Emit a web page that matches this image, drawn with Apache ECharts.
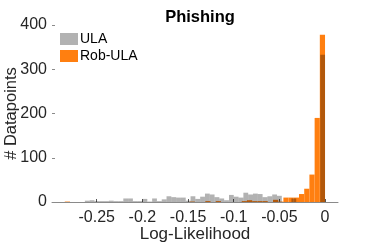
<!DOCTYPE html>
<html><head><meta charset="utf-8">
<script src="https://cdn.jsdelivr.net/npm/echarts@6/dist/echarts.min.js"></script>
<style>html,body{margin:0;padding:0;background:#fff}#c{width:374px;height:245px}</style>
</head><body><div id="c"></div>
<script>
// Histogram bin ranges (each series has 50 equal bins over its range)
var robRange = [-0.285, 0];
var ulaRange = [-0.263, 0];
// Bin counts (left to right)
var robCounts = [1,0,0,0,0,0,0,0,0,0, 0,0,0,0,0,0,0,0,0,0, 0,0,0,0,1,0,0,2,0,2, 0,0,0,0,2,4,2,2,2,0, 5,1,10,10,10,18,30,62,190,378];
var ulaCounts = [3,4,2,2,2,3,2,2,8,8, 2,2,7,1,8,2,6,13,11,10, 10,3,13,7,12,19,17,11,8,4, 16,12,10,21,17,19,18,11,13,17, 14,0,0,8,0,0,0,0,0,333];
var xTicks = [-0.25, -0.2, -0.15, -0.1, -0.05, 0];
var yTicks = [0, 100, 200, 300, 400];
var seriesNames = ['ULA', 'Rob-ULA'];

function toBins(range, counts) {
  var w = (range[1] - range[0]) / counts.length;
  var out = [];
  for (var i = 0; i < counts.length; i++) {
    if (counts[i] > 0) out.push([range[0] + i * w, range[0] + (i + 1) * w, counts[i]]);
  }
  return out;
}
function renderBar(params, api) {
  var a = api.coord([api.value(0), 0]);
  var b = api.coord([api.value(1), api.value(2)]);
  return {type: 'rect', shape: {x: a[0], y: b[1], width: b[0] - a[0], height: a[1] - b[1]},
    style: {fill: api.visual('color')}};
}
var font = 'Liberation Sans, Arial, Helvetica, sans-serif';
var chart = echarts.init(document.getElementById('c'), null, {renderer: 'canvas'});
chart.setOption({
  animation: false,
  title: {text: 'Phishing', left: 195, textAlign: 'center', top: 4,
    textStyle: {fontFamily: font, fontSize: 16.5, fontWeight: 'bold', color: '#000'}},
  legend: {data: seriesNames, orient: 'vertical', left: 60, top: 32, padding: 0,
    itemWidth: 18, itemHeight: 12, itemGap: 3, icon: 'rect',
    textStyle: {fontFamily: font, fontSize: 14, color: '#000', padding: [0,0,0,-3]}},
  grid: {left: 52, right: 36, top: 25, bottom: 43, containLabel: false, outerBoundsMode: 'none'},
  xAxis: {type: 'value', min: -0.299, max: 0.0142,
    name: 'Log-Likelihood', nameLocation: 'middle', nameGap: 24, nameMoveOverlap: false,
    nameTextStyle: {fontFamily: font, fontSize: 17, color: '#262626'},
    axisLine: {show: true, onZero: false, lineStyle: {color: '#8a8a8a', width: 1}},
    axisTick: {show: true, inside: true, length: 3, customValues: xTicks, lineStyle: {color: '#555'}},
    axisLabel: {customValues: xTicks, margin: 8, fontFamily: font, fontSize: 16, color: '#262626',
      formatter: function (v) { return String(v); }},
    splitLine: {show: false}},
  yAxis: {type: 'value', min: yTicks[0], max: yTicks[yTicks.length - 1], interval: 100,
    name: '# Datapoints', nameLocation: 'middle', nameGap: 32, nameMoveOverlap: false,
    nameTextStyle: {fontFamily: font, fontSize: 16.5, color: '#262626'},
    axisLine: {show: false, onZero: false},
    axisTick: {show: true, inside: true, length: 3, lineStyle: {color: '#8a8a8a'}},
    axisLabel: {margin: 5, fontFamily: font, fontSize: 16, color: '#262626'},
    splitLine: {show: false}},
  series: [
    {name: 'Rob-ULA', type: 'custom', renderItem: renderBar, encode: {x: [0, 1], y: 2},
      itemStyle: {color: '#ff7f10'}, data: toBins(robRange, robCounts), z: 2},
    {name: 'ULA', type: 'custom', renderItem: renderBar, encode: {x: [0, 1], y: 2},
      itemStyle: {color: 'rgba(0,0,0,0.3)'}, data: toBins(ulaRange, ulaCounts), z: 3}
  ]
});
</script></body></html>
